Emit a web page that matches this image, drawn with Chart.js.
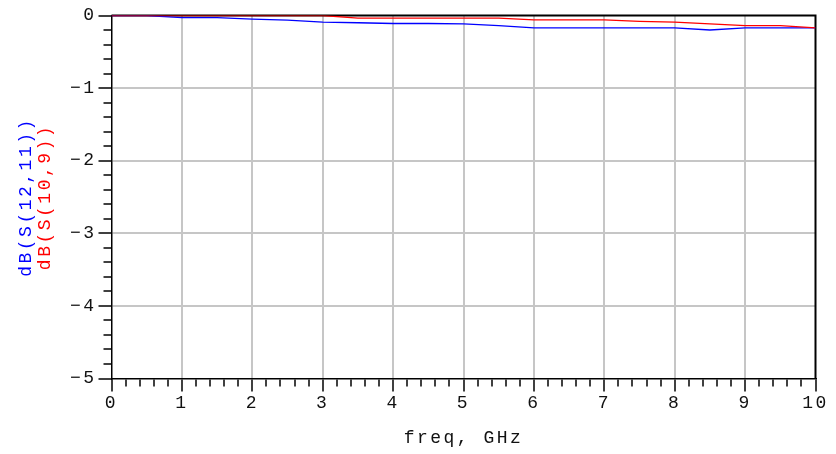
<!DOCTYPE html>
<html>
<head>
<meta charset="utf-8">
<script src="https://cdn.jsdelivr.net/npm/chart.js@4/dist/chart.umd.min.js"></script>
<style>
  html, body { margin: 0; padding: 0; background: #fff; }
  canvas { display: block; }
</style>
</head>
<body>
<canvas id="sparamChart" width="836" height="454"></canvas>
<script>
// sweep points (GHz)
const freqGHz = [0, 0.5, 1, 1.5, 2, 2.5, 3, 3.5, 4, 4.5, 5, 5.5, 6, 6.5, 7, 7.5, 8, 8.5, 9, 9.5, 10];
// dB(S(12,11)), blue trace
const s12_11dB = [0, 0, -0.03, -0.03, -0.05, -0.065, -0.09, -0.10, -0.11, -0.11, -0.115, -0.14, -0.17, -0.17, -0.17, -0.17, -0.17, -0.20, -0.17, -0.17, -0.17];
// dB(S(10,9)), red trace
const s10_9dB = [0, 0, 0, 0, 0, 0, 0, -0.035, -0.035, -0.035, -0.035, -0.035, -0.06, -0.06, -0.06, -0.08, -0.09, -0.115, -0.14, -0.14, -0.17];

// labelled ticks
const xMajorTicks = [0, 1, 2, 3, 4, 5, 6, 7, 8, 9, 10];
const yMajorTicks = [0, -1, -2, -3, -4, -5];

const blue = '#0000ff';
const red = '#ff0000';
const gridGray = '#c6c6c6';
const fontFam = "'Liberation Mono', 'DejaVu Sans Mono', monospace";

function isMajor(v, list) {
  return list.some(m => Math.abs(m - v) < 1e-6);
}

const frame = {
  id: 'frame',
  beforeDraw(chart) {
    chart.ctx.letterSpacing = '2.5px';
  },
  beforeDatasetsDraw(chart) {
    const {ctx, chartArea: a} = chart;
    ctx.save();
    ctx.strokeStyle = '#000';
    ctx.lineWidth = 2;
    ctx.beginPath();
    ctx.moveTo(a.left, a.top);
    ctx.lineTo(a.right, a.top);
    ctx.lineTo(a.right, a.bottom);
    ctx.stroke();
    ctx.restore();
  }
};

const ctx = document.getElementById('sparamChart').getContext('2d');
new Chart(ctx, {
  type: 'line',
  data: {
    datasets: [
      {
        label: 'dB(S(10,9))',
        data: freqGHz.map((f, i) => ({x: f, y: s10_9dB[i]})),
        borderColor: red,
        borderWidth: 1.3,
        pointRadius: 0,
        fill: false
      },
      {
        label: 'dB(S(12,11))',
        data: freqGHz.map((f, i) => ({x: f, y: s12_11dB[i]})),
        borderColor: blue,
        borderWidth: 1.3,
        pointRadius: 0,
        fill: false
      }
    ]
  },
  options: {
    responsive: false,
    animation: false,
    devicePixelRatio: 1,
    layout: { padding: { left: 0, right: 20.5, top: 15.5, bottom: 0 } },
    plugins: { legend: { display: false }, tooltip: { enabled: false } },
    scales: {
      x: {
        type: 'linear',
        min: 0,
        max: 10,
        afterFit(s) { s.height = 75.5; },
        ticks: {
          stepSize: 0.2,
          autoSkip: false,
          maxRotation: 0,
          padding: 1,
          color: '#111',
          font: { family: fontFam, size: 18 },
          callback: v => isMajor(v, xMajorTicks) ? String(Math.round(v)) : ''
        },
        grid: {
          color: c => (isMajor(c.tick.value, xMajorTicks) && c.tick.value > 0 && c.tick.value < 10) ? gridGray : 'rgba(0,0,0,0)',
          lineWidth: 2,
          tickColor: '#000',
          tickWidth: 1.5,
          tickLength: 13,
          tickBorderDash: c => isMajor(c.tick.value, xMajorTicks) ? [] : [7, 100]
        },
        border: { color: '#000', width: 1.5 },
        title: {
          display: true,
          text: 'freq, GHz',
          color: '#111',
          font: { family: fontFam, size: 18 },
          padding: { top: 0, bottom: 5 }
        }
      },
      yOuter: {
        type: 'linear',
        position: 'left',
        weight: 10,
        min: -5,
        max: 0,
        afterFit(s) { s.width = 34; },
        ticks: { display: false },
        grid: { display: false, drawTicks: false },
        border: { display: false },
        title: {
          display: true,
          text: 'dB(S(12,11))',
          color: blue,
          font: { family: fontFam, size: 18 },
          padding: { top: 15, bottom: 0 }
        }
      },
      y: {
        type: 'linear',
        position: 'left',
        weight: 0,
        min: -5,
        max: 0,
        afterFit(s) { s.width = 77.5; },
        ticks: {
          stepSize: 0.2,
          autoSkip: false,
          padding: 2,
          color: '#111',
          font: { family: fontFam, size: 18 },
          callback: v => isMajor(v, yMajorTicks) ? String(Math.round(v)).replace('-', '\u2212') : ''
        },
        grid: {
          color: c => (isMajor(c.tick.value, yMajorTicks) && c.tick.value > -5 && c.tick.value < 0) ? gridGray : 'rgba(0,0,0,0)',
          lineWidth: 2,
          tickColor: '#000',
          tickWidth: 1.5,
          tickLength: 13,
          tickBorderDash: c => isMajor(c.tick.value, yMajorTicks) ? [] : [8, 100],
          tickBorderDashOffset: c => isMajor(c.tick.value, yMajorTicks) ? 0 : 103
        },
        border: { color: '#000', width: 1.5 },
        title: {
          display: true,
          text: 'dB(S(10,9))',
          color: red,
          font: { family: fontFam, size: 18 },
          padding: { top: 0, bottom: 0 }
        }
      }
    }
  },
  plugins: [frame]
});
</script>
</body>
</html>
